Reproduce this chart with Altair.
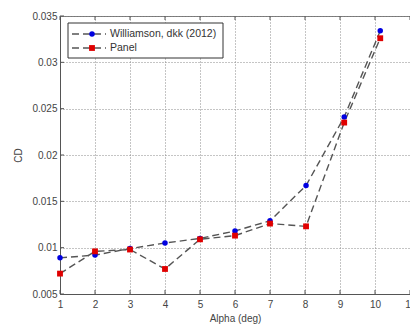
import altair as alt
import pandas as pd

# Drag coefficient vs angle of attack
alpha_w = [1, 2, 3, 4, 5, 6, 7, 8.03, 9.12, 10.15]
cd_w = [0.0089, 0.0092, 0.0099, 0.0105, 0.0110, 0.0118, 0.0129, 0.0167, 0.0241, 0.0334]
alpha_p = [1, 2, 3, 4, 5, 6, 7, 8.03, 9.12, 10.15]
cd_p = [0.0072, 0.0096, 0.0098, 0.0077, 0.0109, 0.0113, 0.0126, 0.0123, 0.0235, 0.0326]

series_names = ["Williamson, dkk (2012)", "Panel"]
x_ticks = list(range(1, 12))
y_ticks = [0.005, 0.01, 0.015, 0.02, 0.025, 0.03, 0.035]

W, H = 350, 278

df_w = pd.DataFrame({"alpha": alpha_w, "cd": cd_w})
df_p = pd.DataFrame({"alpha": alpha_p, "cd": cd_p})

xs = alt.Scale(domain=[1, 11], nice=False)
ys = alt.Scale(domain=[0.005, 0.035], nice=False)

x_axis = alt.Axis(values=x_ticks, title="Alpha (deg)", grid=True, gridDash=[1, 2],
                  gridColor="#8a8a8a", gridOpacity=1, tickSize=0, labelPadding=5,
                  labelOverlap=False, labelFlush=False,
                  domainColor="#555", labelColor="#444", labelFontSize=10,
                  titleFontSize=10, titleFontWeight="normal", titleColor="#444",
                  titlePadding=4, labelFont="Liberation Sans", titleFont="Liberation Sans")
y_axis = alt.Axis(values=y_ticks, title="CD", format=".3~f", grid=True, gridDash=[1, 2],
                  gridColor="#8a8a8a", gridOpacity=1, tickSize=0, labelPadding=3,
                  labelOverlap=False, labelFlush=False,
                  domainColor="#555", labelColor="#444", labelFontSize=10,
                  titleFontSize=10, titleFontWeight="normal", titleColor="#444",
                  titlePadding=8, labelFont="Liberation Sans", titleFont="Liberation Sans")

X = alt.X("alpha:Q", scale=xs, axis=x_axis)
Y = alt.Y("cd:Q", scale=ys, axis=y_axis)

line_w = alt.Chart(df_w).mark_line(color="#555", strokeDash=[7, 4], strokeWidth=1.4).encode(x=X, y=Y)
line_p = alt.Chart(df_p).mark_line(color="#555", strokeDash=[7, 4], strokeWidth=1.4).encode(x=X, y=Y)
pts_w = alt.Chart(df_w).mark_point(shape="circle", filled=True, color="#0000e0", size=30, opacity=1).encode(x=X, y=Y)
pts_p = alt.Chart(df_p).mark_point(shape="square", filled=True, color="#e00000", size=34, opacity=1).encode(x=X, y=Y)

# inward tick marks on bottom/top and left
tx = pd.DataFrame({"alpha": x_ticks})
ticks_bottom = alt.Chart(tx).mark_rule(color="#555").encode(x=X, y=alt.value(H), y2=alt.value(H - 4))
ticks_top = alt.Chart(tx).mark_rule(color="#555").encode(x=X, y=alt.value(0), y2=alt.value(4))
ty = pd.DataFrame({"cd": y_ticks})
ticks_left = alt.Chart(ty).mark_rule(color="#555").encode(y=Y, x=alt.value(0), x2=alt.value(4))

# legend box
leg = pd.DataFrame({"name": series_names, "row": [0, 1]})
leg_box = alt.Chart(pd.DataFrame({"k": [0]})).mark_rect(
    fill="white", stroke="#333", strokeWidth=1).encode(
    x=alt.value(8), x2=alt.value(163), y=alt.value(7), y2=alt.value(42))
leg_line1 = alt.Chart(leg.iloc[[0]]).mark_rule(color="#555", strokeDash=[7, 4], strokeWidth=1.4).encode(
    x=alt.value(12), x2=alt.value(46), y=alt.value(18))
leg_line2 = alt.Chart(leg.iloc[[1]]).mark_rule(color="#555", strokeDash=[7, 4], strokeWidth=1.4).encode(
    x=alt.value(12), x2=alt.value(46), y=alt.value(32))
leg_pt1 = alt.Chart(leg.iloc[[0]]).mark_point(shape="circle", filled=True, color="#0000e0", size=30, opacity=1).encode(
    x=alt.value(32), y=alt.value(18))
leg_pt2 = alt.Chart(leg.iloc[[1]]).mark_point(shape="square", filled=True, color="#e00000", size=34, opacity=1).encode(
    x=alt.value(32), y=alt.value(32))
leg_txt1 = alt.Chart(leg.iloc[[0]]).mark_text(align="left", baseline="middle", fontSize=10.5,
                                              font="Liberation Sans", color="#333").encode(
    x=alt.value(50), y=alt.value(18), text="name:N")
leg_txt2 = alt.Chart(leg.iloc[[1]]).mark_text(align="left", baseline="middle", fontSize=10.5,
                                              font="Liberation Sans", color="#333").encode(
    x=alt.value(50), y=alt.value(32), text="name:N")

chart = alt.layer(
    line_w, line_p, pts_w, pts_p, ticks_bottom, ticks_top, ticks_left,
    leg_box, leg_line1, leg_line2, leg_pt1, leg_pt2, leg_txt1, leg_txt2,
).properties(
    width=W, height=H,
    autosize=alt.AutoSizeParams(type="none"),
    padding={"left": 60, "top": 16, "right": 0, "bottom": 30},
    background="white",
).configure_view(stroke="#777", strokeWidth=1).configure_axis(labelOverlap=False, labelFlush=False)

chart.save("out.html", embed_options={"renderer": "svg", "actions": False})
